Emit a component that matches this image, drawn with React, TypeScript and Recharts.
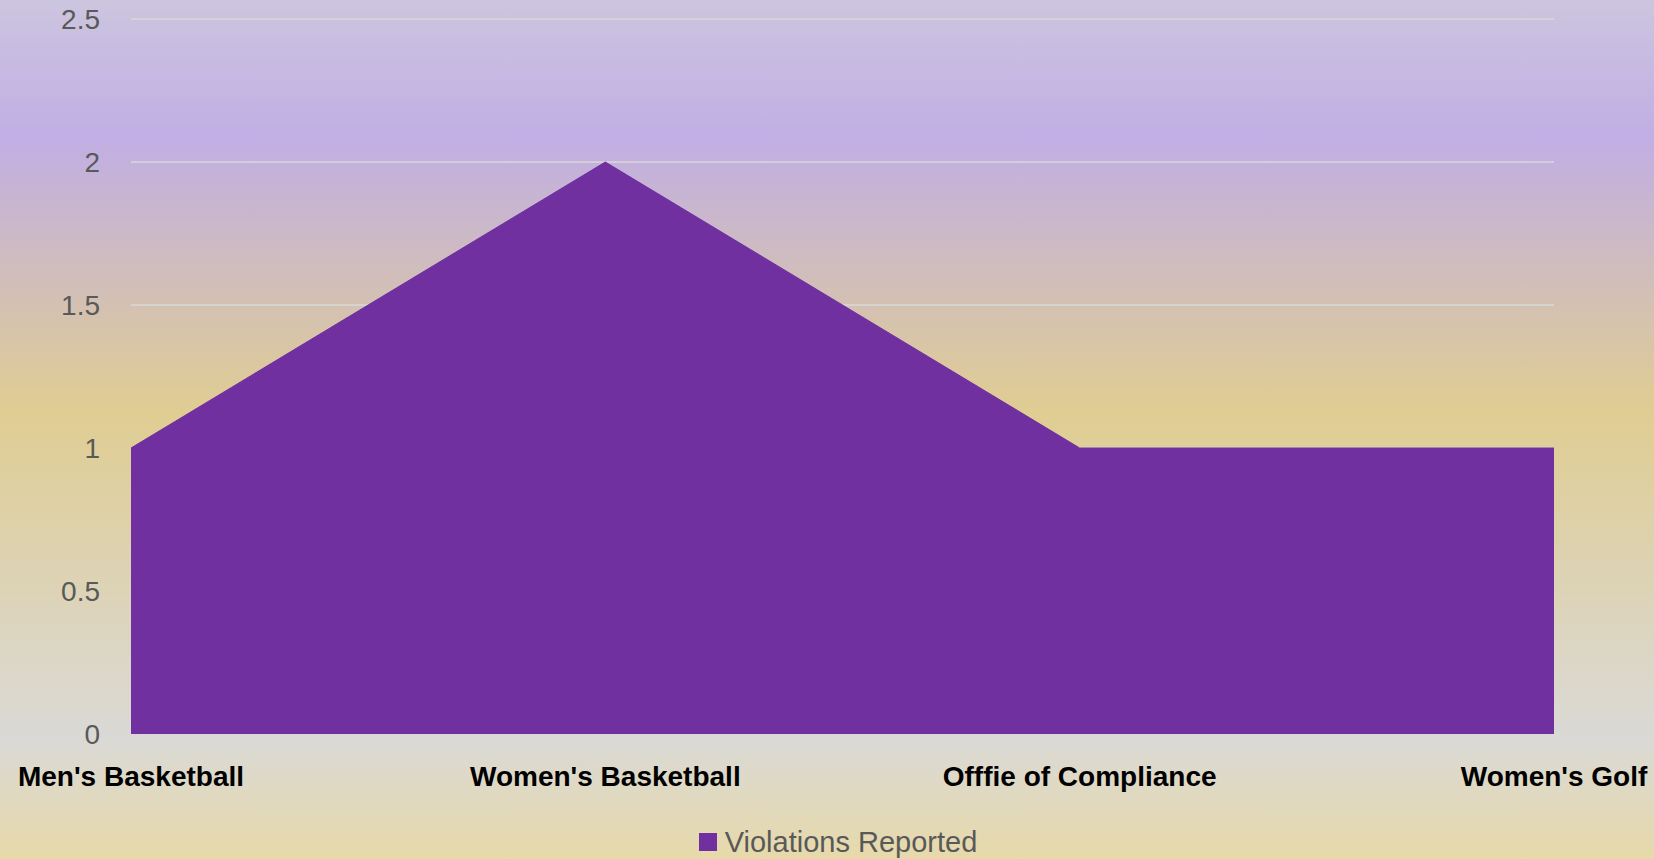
import { Area, AreaChart, CartesianGrid, Legend, XAxis, YAxis } from 'recharts';

const categories = ["Men's Basketball", "Women's Basketball", 'Offfie of Compliance', "Women's Golf"];
const violations = [1, 2, 1, 1];
const yTicks = [0, 0.5, 1, 1.5, 2, 2.5];
const seriesName = 'Violations Reported';

const data = categories.map((name, i) => ({ name, value: violations[i] }));

const FONT = '"Liberation Sans", Arial, sans-serif';
const PURPLE = '#7030A0';

const LegendContent = () => (
  <div
    style={{
      display: 'flex',
      alignItems: 'center',
      justifyContent: 'center',
      height: 34,
      paddingLeft: 22,
      fontFamily: FONT,
      fontSize: 29,
      color: '#595959',
    }}>
    <span style={{ width: 18, height: 18, background: PURPLE, marginRight: 8, display: 'inline-block' }} />
    <span>{seriesName}</span>
  </div>
);

const App = () => {
  return (
    <div
      style={{
        position: 'absolute',
        left: 0,
        top: 0,
        width: 1654,
        height: 859,
        background:
          'linear-gradient(to bottom, #CCC5DF 0%, #C1AEE4 16%, #E0CD92 48%, #DAD9D6 86%, #E7D9A9 100%)',
      }}>
      <AreaChart width={1654} height={859} data={data} margin={{ top: 19, right: 100, bottom: 0, left: 0 }}>
        <CartesianGrid vertical={false} stroke='#D9D9D9' strokeWidth={1.5} />
        <XAxis
          dataKey='name'
          interval={0}
          axisLine={false}
          tickLine={false}
          height={91}
          tickMargin={26}
          tick={{ fill: '#000000', fontSize: 28, fontWeight: 'bold', fontFamily: FONT }}
        />
        <YAxis
          domain={[0, 2.5]}
          ticks={yTicks}
          width={131}
          axisLine={false}
          tickLine={false}
          tickMargin={25}
          tick={{ fill: '#595959', fontSize: 28, fontFamily: FONT }}
        />
        <Legend
          verticalAlign='bottom'
          height={34}
          wrapperStyle={{ left: 0, width: 1654 }}
          content={() => <LegendContent />}
        />
        <Area
          type='linear'
          dataKey='value'
          name={seriesName}
          fill={PURPLE}
          fillOpacity={1}
          stroke={PURPLE}
          strokeWidth={1}
          dot={false}
          activeDot={false}
          isAnimationActive={false}
        />
      </AreaChart>
    </div>
  );
};

export default App;
